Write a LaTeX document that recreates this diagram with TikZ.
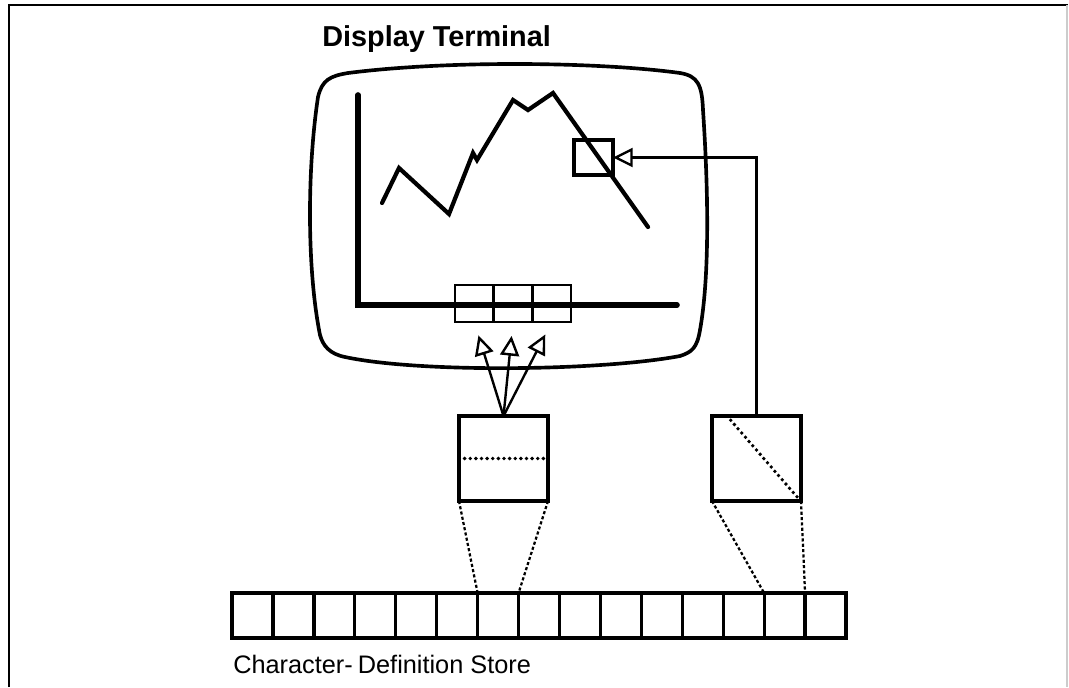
\documentclass[tikz,border=0pt]{standalone}
\usepackage{fontspec}
\setsansfont{Liberation Sans}
\usetikzlibrary{arrows.meta,positioning}
\tikzset{
  basebox/.style={rectangle,draw=black,line width=2.3pt,inner sep=0pt,
                  outer sep=0pt},
  storecell/.style={basebox,minimum width=1.023cm,minimum height=1.125cm},
  scrcell/.style={basebox,line width=2pt,minimum width=0.967cm,
                  minimum height=0.925cm},
  defbox/.style={basebox,minimum width=2.225cm,minimum height=2.125cm},
  cursorbox/.style={basebox,line width=2.2pt,minimum width=0.975cm,
                    minimum height=0.875cm},
  screenline/.style={line width=2.6pt,line join=round},
  axisline/.style={line width=4pt,line cap=round},
  plotline/.style={line width=3pt,line join=miter,line cap=round},
  openarr/.style={-{Triangle[open,length=14pt,width=13.5pt]},line width=1.7pt},
  dashline/.style={line width=1.6pt,dash pattern=on 2.2pt off 1.6pt},
  dotline/.style={line width=2.7pt,line cap=round,dash pattern=on 0pt off 4pt},
  titletext/.style={font=\sffamily\bfseries\fontsize{20.5}{24}\selectfont,
                    inner sep=0pt},
  labeltext/.style={font=\sffamily\fontsize{18}{21}\selectfont,
                    inner sep=0pt}
}
\begin{document}
\begin{tikzpicture}[x=0.025cm,y=-0.025cm]
  \useasboundingbox (0,0) rectangle (1069,687);

  % Frame
  \draw[line width=1.5pt] (9,687) -- (9,5) -- (1068,5);
  \draw[gray!40,line width=0.8pt] (1067,5) -- (1067,687);

  % Title
  \node[titletext,anchor=base west] (title) at (322,46) {Display Terminal};

  % Screen outline
  \draw[screenline] (318,97) .. controls (322,80) and (330,76) .. (348,73)
    .. controls (450,60) and (600,62) .. (680,73)
    .. controls (698,76) and (702,85) .. (703,110)
    .. controls (709,200) and (709,280) .. (700,330)
    .. controls (697,348) and (692,352) .. (680,356)
    .. controls (600,371) and (420,373) .. (345,357)
    .. controls (330,354) and (323,346) .. (320,335)
    .. controls (307,270) and (307,170) .. (318,97) -- cycle;

  % Graph
  \draw[axisline] (358,95) -- (358,305) -- (677,305);
  \draw[plotline] (382,203) -- (399,168) -- (449,214) -- (473,153)
    -- (477,160) -- (513,100) -- (528,110) -- (553,93) -- (648,227);

  % Cursor on screen
  \node[cursorbox] (cursor) at (593.5,157.5) {};

  % Characters on screen
  \node[scrcell] (scr1) at (474.3,303.5) {};
  \node[scrcell,right=0pt of scr1] (scr2) {};
  \node[scrcell,right=0pt of scr2] (scr3) {};

  % Definition boxes
  \node[defbox] (charbox) at (503.5,458.5) {};
  \node[defbox] (curbox) at (756.5,458.5) {};
  \draw[dotline] (charbox.west) -- (charbox.east);
  \draw[dotline] ([xshift=0.375cm]curbox.north west)
    -- ([xshift=-0.075cm,yshift=0.075cm]curbox.south east);

  % Store
  \node[storecell] (cell1) at (252.5,615.5) {};
  \foreach \i [remember=\i as \prev (initially 1)] in {2,...,15}
    \node[storecell,right=0pt of cell\prev] (cell\i) {};
  \node[labeltext,anchor=base west] (storelabel) at (233,673)
    {Character-\kern0.2em Definition Store};

  % Arrows
  \foreach \s in {scr1,scr2,scr3}
    \draw[openarr,shorten >=0.35cm] (charbox.north) -- (\s.south);
  \draw[openarr] (curbox.north) |- (cursor.east);

  % Store links
  \draw[dashline] (charbox.south west) -- (cell7.north west);
  \draw[dashline] (charbox.south east) -- (cell7.north east);
  \draw[dashline] (curbox.south west) -- (cell14.north west);
  \draw[dashline] (curbox.south east) -- (cell14.north east);

\end{tikzpicture}
\end{document}
